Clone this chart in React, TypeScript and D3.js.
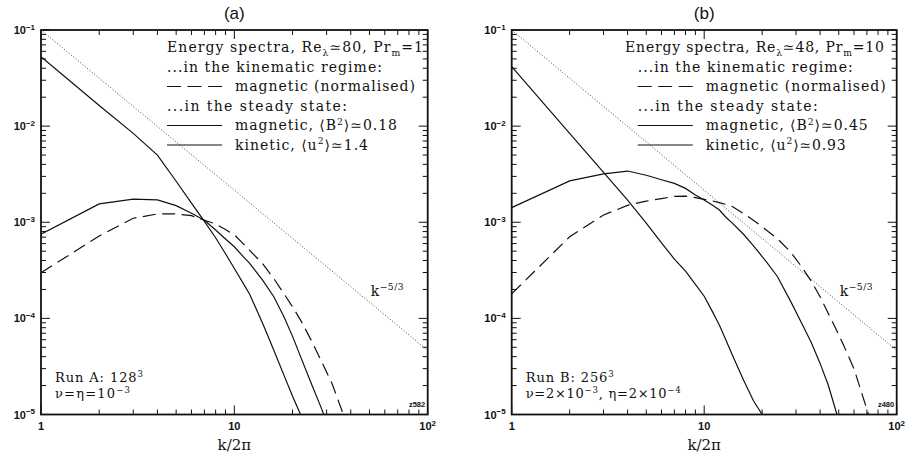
import React from 'react'
import * as d3 from 'd3'

// wavenumbers k/2pi sampled in each run
const kRunA = [1, 2, 3, 4, 5, 6, 7, 8, 9, 10, 11, 12, 14, 16, 18, 20, 22, 25, 28, 32, 36, 40]
// steady state kinetic spectrum, run A
const kineticA = [0.0527, 0.0164, 0.0084, 0.0050, 0.00267, 0.00158, 0.00102, 6.9e-4, 4.7e-4, 3.3e-4, 2.4e-4, 1.78e-4, 8.9e-5, 4.65e-5, 2.6e-5, 1.55e-5, 1.0e-5, 5e-6, null, null, null, null]
// steady state magnetic spectrum, run A
const magneticA = [7.5e-4, 1.55e-3, 1.74e-3, 1.71e-3, 1.49e-3, 1.24e-3, 1.05e-3, 8.3e-4, 6.7e-4, 5.56e-4, 4.5e-4, 3.73e-4, 2.5e-4, 1.68e-4, 1.05e-4, 6.5e-5, 4.0e-5, 2.1e-5, 1.2e-5, 6e-6, null, null]
// kinematic regime magnetic spectrum (normalised), run A
const kinematicA = [2.98e-4, 7.2e-4, 1.1e-3, 1.22e-3, 1.22e-3, 1.17e-3, 1.05e-3, 9.6e-4, 8.4e-4, 7.4e-4, 6.1e-4, 5.1e-4, 3.7e-4, 2.6e-4, 1.82e-4, 1.32e-4, 9.6e-5, 5.9e-5, 3.7e-5, 2.1e-5, 1.1e-5, 5e-6]

const kRunB = [1, 2, 3, 4, 5, 6, 7, 8, 9, 10, 11, 12, 13, 14, 16, 18, 20, 21, 24, 28, 32, 36, 40, 44, 48, 52, 56, 60, 64, 68, 72]
const kineticB = [0.0415, 8.4e-3, 3.3e-3, 1.70e-3, 9.8e-4, 6.1e-4, 4.14e-4, 3.1e-4, 2.26e-4, 1.7e-4, 1.19e-4, 8.5e-5, 5.9e-5, 4.15e-5, 2.28e-5, 1.4e-5, 1.0e-5, 7e-6, null, null, null, null, null, null, null, null, null, null, null, null, null]
const magneticB = [1.42e-3, 2.69e-3, 3.18e-3, 3.41e-3, 3.08e-3, 2.77e-3, 2.54e-3, 2.25e-3, 1.92e-3, 1.70e-3, 1.51e-3, 1.34e-3, 1.12e-3, 9.8e-4, 7.5e-4, 5.7e-4, 4.4e-4, 3.9e-4, 2.73e-4, 1.53e-4, 9.0e-5, 5.6e-5, 3.4e-5, 2.05e-5, 1.14e-5, 6.6e-6, null, null, null, null, null]
const kinematicB = [1.8e-4, 7.06e-4, 1.19e-3, 1.5e-3, 1.66e-3, 1.76e-3, 1.86e-3, 1.87e-3, 1.80e-3, 1.73e-3, 1.67e-3, 1.60e-3, 1.53e-3, 1.46e-3, 1.23e-3, 1.05e-3, 9.0e-4, 8.3e-4, 6.76e-4, 4.95e-4, 3.47e-4, 2.43e-4, 1.68e-4, 1.14e-4, 8.0e-5, 5.7e-5, 4.1e-5, 2.98e-5, 2.0e-5, 1.36e-5, 9.5e-6]

// k^-5/3 reference line end points
const slopeK = [1, 100]
const slopeE = [0.1, 4.64e-5]

const xTickLabels = ['1', '10', '10^2']
const yTickLabels = ['10^-1', '10^-2', '10^-3', '10^-4', '10^-5']

const TOP = 30
const BOTTOM = 414.5
const SERIF = '"DejaVu Serif", serif'
const SANS = '"Liberation Sans", Arial, sans-serif'

// text pieces: [text, 'sup' | 'sub' | undefined]; len stretches the spacing to the measured width
function Rich({ x, y, parts, size, len }) {
  let shift = 0
  return (
    <text x={x} y={y} fontFamily={SERIF} fontSize={size} fill="#111"
      textLength={len} lengthAdjust={len ? 'spacing' : undefined}>
      {parts.map(([t, kind], i) => {
        const target = kind === 'sup' ? -size * 0.36 : kind === 'sub' ? size * 0.28 : 0
        const dy = target - shift
        shift = target
        return <tspan key={i} dy={dy} fontSize={kind ? size * 0.66 : size}>{t}</tspan>
      })}
    </text>
  )
}

function powLabel(s) {
  const [base, exp] = s.split('^')
  if (!exp) return [[base]]
  return [[base], [exp.replace('-', '\u2212'), 'sup']]
}

function Panel({ p }) {
  const x = d3.scaleLog().domain([1, 100]).range([p.left, p.right])
  const y = d3.scaleLog().domain([1e-5, 1e-1]).range([BOTTOM, TOP])
  const line = d3.line()
    .defined(d => d[1] != null)
    .x(d => x(d[0]))
    .y(d => y(d[1]))
  const pts = (ks, vs) => ks.map((k, i) => [k, vs[i]])
  const isMajor = v => Math.abs(Math.log10(v) - Math.round(Math.log10(v))) < 1e-9
  const xt = x.ticks()
  const yt = y.ticks()
  const clipId = 'clip-' + p.id
  const lx = p.left + 126
  const rows = [52, 71.5, 91, 110.5, 130, 149.5]
  const fs = 14

  return (
    <g>
      <defs>
        <clipPath id={clipId}>
          <rect x={p.left} y={TOP} width={p.right - p.left} height={BOTTOM - TOP} />
        </clipPath>
      </defs>
      <text x={(p.left + p.right) / 2} y={19} textAnchor="middle" fontFamily={SANS} fontSize={17} fill="#111">({p.id})</text>

      <g clipPath={`url(#${clipId})`} fill="none" stroke="#111">
        <path d={line(pts(slopeK, slopeE))} strokeWidth={1} strokeDasharray="1,2" stroke="#444" />
        <path d={line(pts(p.k, p.kinematic))} strokeWidth={1.2} strokeDasharray="13,6.5" />
        <path d={line(pts(p.k, p.magnetic))} strokeWidth={1.2} />
        <path d={line(pts(p.k, p.kinetic))} strokeWidth={1.2} />
      </g>

      {/* ticks on all four sides */}
      <g stroke="#111" strokeWidth={1}>
        {xt.map((t, i) => {
          const len = isMajor(t) ? 9 : 5
          return (
            <g key={'x' + i}>
              <line x1={x(t)} x2={x(t)} y1={BOTTOM} y2={BOTTOM - len} />
              <line x1={x(t)} x2={x(t)} y1={TOP} y2={TOP + len} />
            </g>
          )
        })}
        {yt.map((t, i) => {
          const len = isMajor(t) ? 9 : 5
          return (
            <g key={'y' + i}>
              <line x1={p.left} x2={p.left + len} y1={y(t)} y2={y(t)} />
              <line x1={p.right} x2={p.right - len} y1={y(t)} y2={y(t)} />
            </g>
          )
        })}
      </g>
      <rect x={p.left} y={TOP} width={p.right - p.left} height={BOTTOM - TOP} fill="none" stroke="#111" strokeWidth={1.8} />

      {/* tick labels */}
      {xt.filter(isMajor).map((t, i) => (
        <text key={'xl' + i} x={x(t)} y={430} textAnchor="middle" fontFamily={SANS} fontSize={11} fontWeight="bold" fill="#111">
          {powLabel(xTickLabels[i]).map(([s, k], j) => (
            <tspan key={j} dy={k ? -4.5 : 0} fontSize={k ? 8 : 11}>{s}</tspan>
          ))}
        </text>
      ))}
      {yt.filter(isMajor).reverse().map((t, i) => (
        <text key={'yl' + i} x={p.left - 6} y={y(t) + 4} textAnchor="end" fontFamily={SANS} fontSize={11} fontWeight="bold" fill="#111">
          {powLabel(yTickLabels[i]).map(([s, k], j) => (
            <tspan key={j} dy={k ? -4.5 : 0} fontSize={k ? 8 : 11}>{s}</tspan>
          ))}
        </text>
      ))}
      <text x={(p.left + p.right) / 2} y={450} textAnchor="middle" fontFamily={SERIF} fontSize={15} fill="#111">k/2π</text>

      {/* legend */}
      <Rich x={p.titleX} y={rows[0]} size={fs} len={p.titleLen} parts={p.title} />
      <Rich x={lx} y={rows[1]} size={fs} len={215} parts={[['...in the kinematic regime:']]} />
      <line x1={lx} x2={lx + 55} y1={rows[2] - 4.5} y2={rows[2] - 4.5} stroke="#111" strokeWidth={1.2} strokeDasharray="14,6.5" />
      <Rich x={lx + 68} y={rows[2]} size={fs} len={180} parts={[['magnetic (normalised)']]} />
      <Rich x={lx} y={rows[3]} size={fs} len={180} parts={[['...in the steady state:']]} />
      <line x1={lx} x2={lx + 55} y1={rows[4] - 4.5} y2={rows[4] - 4.5} stroke="#111" strokeWidth={1.2} />
      <Rich x={lx + 68} y={rows[4]} size={fs} len={162} parts={p.magLabel} />
      <line x1={lx} x2={lx + 55} y1={rows[5] - 4.5} y2={rows[5] - 4.5} stroke="#111" strokeWidth={1.2} />
      <Rich x={lx + 68} y={rows[5]} size={fs} len={p.kinLen} parts={p.kinLabel} />

      <Rich x={p.right - 57} y={295.5} size={fs} len={33} parts={[['k'], ['\u22125/3', 'sup']]} />
      <Rich x={p.left + 14} y={381.5} size={13} len={88} parts={p.run} />
      <Rich x={p.left + 14} y={397.5} size={13} len={p.viscLen} parts={p.visc} />
      <text x={p.right - 2.5} y={407} textAnchor="end" fontFamily={SANS} fontSize={7.5} fontWeight="bold" fill="#111">{p.tag}</text>
    </g>
  )
}

const panels = [
  {
    id: 'a', left: 41, right: 427.7, titleX: 167, titleLen: 256, kinLen: 133, viscLen: 75, tag: 'z582',
    k: kRunA, kinetic: kineticA, magnetic: magneticA, kinematic: kinematicA,
    title: [['Energy spectra, Re'], ['λ', 'sub'], ['\u224380, Pr'], ['m', 'sub'], ['=1']],
    magLabel: [['magnetic, \u27E8B'], ['2', 'sup'], ['\u27E9\u22430.18']],
    kinLabel: [['kinetic, \u27E8u'], ['2', 'sup'], ['\u27E9\u22431.4']],
    run: [['Run A: 128'], ['3', 'sup']],
    visc: [['ν=η=10'], ['\u22123', 'sup']],
  },
  {
    id: 'b', left: 511.7, right: 896.7, titleX: 625, titleLen: 259, kinLen: 140, viscLen: 155, tag: 'z480',
    k: kRunB, kinetic: kineticB, magnetic: magneticB, kinematic: kinematicB,
    title: [['Energy spectra, Re'], ['λ', 'sub'], ['\u224348, Pr'], ['m', 'sub'], ['=10']],
    magLabel: [['magnetic, \u27E8B'], ['2', 'sup'], ['\u27E9\u22430.45']],
    kinLabel: [['kinetic, \u27E8u'], ['2', 'sup'], ['\u27E9\u22430.93']],
    run: [['Run B: 256'], ['3', 'sup']],
    visc: [['ν=2×10'], ['\u22123', 'sup'], [', η=2×10'], ['\u22124', 'sup']],
  },
]

export default function App() {
  return (
    <svg width={907} height={455} style={{ position: 'absolute', left: 0, top: 0, background: '#fff' }}>
      {panels.map(p => <Panel key={p.id} p={p} />)}
    </svg>
  )
}
